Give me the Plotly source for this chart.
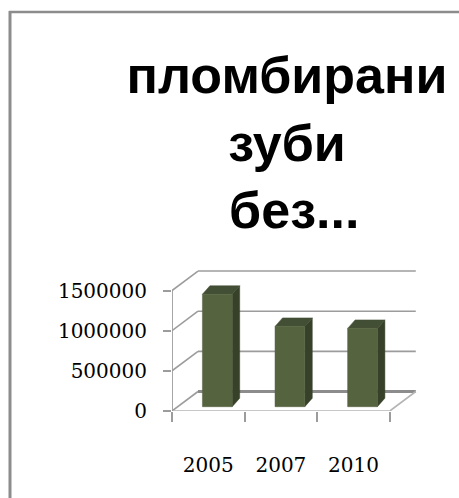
import plotly.graph_objects as go

# Data
years = ["2005", "2007", "2010"]
filled_teeth = [1400000, 1000000, 975000]
y_ticks = [0, 500000, 1000000, 1500000]
y_tick_text = ["0", "500000", "1000000", "1500000"]
title_lines = ["пломбирани", "зуби", "\u00a0без..."]

# Figure geometry (pixels)
W, H = 459, 498
M_L, M_R, M_T, M_B = 172, 39, 260, 87
PX_PER_CAT = 72.6
VAL_PER_PX = 12450
plot_w = W - M_L - M_R
plot_h = H - M_T - M_B
x_range = [-0.5, -0.5 + plot_w / PX_PER_CAT]
y_range = [0, plot_h * VAL_PER_PX]

# Oblique depth of the 3D box (walls) and of the bars
WALL_DX = 26 / PX_PER_CAT
WALL_DY = 19.5 * VAL_PER_PX
BAR_DX = 7.5 / PX_PER_CAT
BAR_DY = 8.5 * VAL_PER_PX
BAR_BASE = 4.3 * VAL_PER_PX
BAR_SHIFT = 0.124
BAR_HALF = 0.205

n = len(years)
x0, x1 = -0.5, n - 0.5

GRID = "#9c9c9c"
FRONT = "#55633f"
SIDE = "#37412a"
TOP = "#434f34"

fig = go.Figure()


def seg_trace(segs, color, width):
    xs, ys = [], []
    for (xa, ya), (xb, yb) in segs:
        xs += [xa, xb, None]
        ys += [ya, yb, None]
    return go.Scatter(x=xs, y=ys, mode="lines", hoverinfo="skip",
                      line=dict(color=color, width=width), showlegend=False)


# Back wall gridlines and side-wall diagonals
grid_segs = []
for v in y_ticks:
    grid_segs.append(((x0, v), (x0 + WALL_DX, v + WALL_DY)))
    if v > 0:
        grid_segs.append(((x0 + WALL_DX, v + WALL_DY), (x1 + WALL_DX, v + WALL_DY)))
fig.add_trace(seg_trace(grid_segs, GRID, 1.6))

# Floor: back edge (heavier), front edge and right edge
fig.add_trace(seg_trace([((x0 + WALL_DX, WALL_DY), (x1 + WALL_DX, WALL_DY))], "#8c8c8c", 3))
fig.add_trace(seg_trace([((x0, 0), (x1, 0)), ((x1, 0), (x1 + WALL_DX, WALL_DY))], "#b4b4b4", 1.6))

# Value axis line
fig.add_trace(seg_trace([((x0, 0), (x0, max(y_ticks)))], GRID, 1.8))


def poly_trace(polys, color):
    xs, ys = [], []
    for p in polys:
        xs += [q[0] for q in p] + [p[0][0], None]
        ys += [q[1] for q in p] + [p[0][1], None]
    return go.Scatter(x=xs, y=ys, mode="lines", fill="toself", fillcolor=color,
                      line=dict(color=color, width=0.5), hoverinfo="skip",
                      showlegend=False)


front, side, top = [], [], []
for i, v in enumerate(filled_teeth):
    xl = i + BAR_SHIFT - BAR_HALF
    xr = i + BAR_SHIFT + BAR_HALF
    yb = BAR_BASE
    yt = BAR_BASE + v
    front.append([(xl, yb), (xr, yb), (xr, yt), (xl, yt)])
    side.append([(xr, yb), (xr + BAR_DX, yb + BAR_DY), (xr + BAR_DX, yt + BAR_DY), (xr, yt)])
    top.append([(xl, yt), (xr, yt), (xr + BAR_DX, yt + BAR_DY), (xl + BAR_DX, yt + BAR_DY)])

fig.add_trace(poly_trace(side, SIDE))
fig.add_trace(poly_trace(top, TOP))
fig.add_trace(poly_trace(front, FRONT))

tick_font = dict(family="DejaVu Serif", size=20, color="#000000")

fig.update_layout(
    width=W, height=H,
    margin=dict(l=M_L, r=M_R, t=M_T, b=M_B, pad=0),
    paper_bgcolor="white", plot_bgcolor="white",
    showlegend=False,
    title=dict(
        text="<br>".join(title_lines),
        x=287 / W, xanchor="center", xref="container",
        y=1 - 93 / H, yanchor="top", yref="container",
        font=dict(family="Liberation Sans", size=52, color="#000000", weight="bold"),
    ),
    xaxis=dict(
        range=x_range, showgrid=False, zeroline=False, showline=False,
        tickmode="array", tickvals=list(range(n)), ticktext=years,
        ticks="", tickfont=tick_font, ticklabelstandoff=40,
        minor=dict(tickmode="linear", tick0=-0.5, dtick=1, ticks="outside",
                   ticklen=10, tickwidth=1.6, tickcolor=GRID, showgrid=False),
        fixedrange=True,
    ),
    yaxis=dict(
        range=y_range, showgrid=False, zeroline=False, showline=False,
        tickmode="array", tickvals=y_ticks, ticktext=y_tick_text,
        ticks="outside", ticklen=8, tickwidth=1.6, tickcolor=GRID,
        tickfont=tick_font, ticklabelstandoff=12,
        fixedrange=True,
    ),
)

# Outer frame: left and top border
fig.add_shape(type="line", xref="paper", yref="paper",
              x0=(10 - M_L) / plot_w, x1=(10 - M_L) / plot_w,
              y0=(H - M_B - 11) / plot_h, y1=(H - M_B - H) / plot_h,
              line=dict(color="#8c8c8c", width=3))
fig.add_shape(type="line", xref="paper", yref="paper",
              x0=(9 - M_L) / plot_w, x1=(W - M_L) / plot_w,
              y0=(H - M_B - 12) / plot_h, y1=(H - M_B - 12) / plot_h,
              line=dict(color="#8c8c8c", width=2.5))

fig.write_html("out.html")
